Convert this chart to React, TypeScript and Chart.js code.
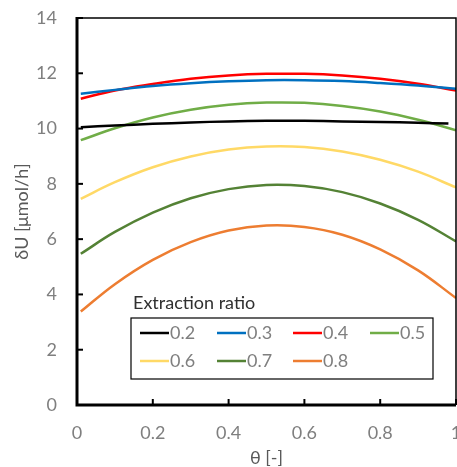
import React, { useEffect, useRef } from "react";
import { Chart, registerables } from "chart.js";

Chart.register(...registerables);

const theta = [0.01, 0.1, 0.2, 0.3, 0.4, 0.5, 0.6, 0.7, 0.8, 0.9, 1.0];
const thetaBlack = [0.01, 0.1, 0.2, 0.3, 0.4, 0.5, 0.6, 0.7, 0.8, 0.9, 0.98];

const r02 = [10.05, 10.11, 10.17, 10.22, 10.26, 10.28, 10.28, 10.26, 10.24, 10.21, 10.18];
const r03 = [11.26, 11.40, 11.54, 11.64, 11.71, 11.75, 11.75, 11.72, 11.65, 11.56, 11.44];
const r04 = [11.08, 11.38, 11.61, 11.80, 11.92, 11.98, 11.98, 11.92, 11.80, 11.62, 11.38];
const r05 = [9.58, 10.01, 10.40, 10.68, 10.86, 10.94, 10.93, 10.82, 10.62, 10.32, 9.94];
const r06 = [7.46, 8.06, 8.60, 8.99, 9.24, 9.35, 9.33, 9.17, 8.87, 8.44, 7.87];
const r07 = [5.47, 6.26, 6.96, 7.48, 7.81, 7.96, 7.92, 7.70, 7.29, 6.70, 5.92];
const r08 = [3.38, 4.37, 5.25, 5.89, 6.31, 6.49, 6.44, 6.16, 5.63, 4.87, 3.87];

const seriesLabels = ["0.2", "0.3", "0.4", "0.5", "0.6", "0.7", "0.8"];
const seriesColors = ["#000000", "#0070C0", "#FF0000", "#70AD47", "#FFD966", "#548235", "#ED7D31"];
const seriesValues = [r02, r03, r04, r05, r06, r07, r08];

const xTicks = [0, 0.2, 0.4, 0.6, 0.8, 1];
const yTicks = [0, 2, 4, 6, 8, 10, 12, 14];

const FONT = "Lato, 'Open Sans', sans-serif";

const framePlugin = {
  id: "frameTicks",
  afterDatasetsDraw(chart: any) {
    const { ctx, chartArea, scales } = chart;
    const { left, right, top, bottom } = chartArea;
    ctx.save();
    ctx.strokeStyle = "#000";
    ctx.lineWidth = 2;
    yTicks.forEach((v) => {
      const y = scales.y.getPixelForValue(v);
      ctx.beginPath();
      ctx.moveTo(left, y);
      ctx.lineTo(left + 6, y);
      ctx.stroke();
    });
    xTicks.forEach((v) => {
      const x = scales.x.getPixelForValue(v);
      ctx.beginPath();
      ctx.moveTo(x, bottom);
      ctx.lineTo(x, bottom - 6);
      ctx.stroke();
    });
    ctx.lineWidth = 1.5;
    ctx.beginPath();
    ctx.moveTo(left, top);
    ctx.lineTo(right, top);
    ctx.lineTo(right, bottom);
    ctx.stroke();
    ctx.lineWidth = 3;
    ctx.beginPath();
    ctx.moveTo(left, top - 1);
    ctx.lineTo(left, bottom);
    ctx.lineTo(right, bottom);
    ctx.stroke();

    // legend
    const bx = 131, by = 318, bw = 302, bh = 61;
    ctx.fillStyle = "#ffffff";
    ctx.fillRect(bx, by, bw, bh);
    ctx.lineWidth = 1.2;
    ctx.strokeStyle = "#000";
    ctx.strokeRect(bx, by, bw, bh);
    ctx.font = `18px ${FONT}`;
    ctx.textBaseline = "middle";
    ctx.textAlign = "left";
    ctx.fillStyle = "#303030";
    ctx.fillText("Extraction ratio", 133, 303);
    const colX = [140, 217, 293, 370];
    const rowY = [333, 361];
    chart.data.datasets.forEach((ds: any, i: number) => {
      const cx = colX[i % 4];
      const cy = rowY[Math.floor(i / 4)];
      ctx.strokeStyle = ds.borderColor;
      ctx.lineWidth = 2.5;
      ctx.beginPath();
      ctx.moveTo(cx, cy);
      ctx.lineTo(cx + 29, cy);
      ctx.stroke();
      ctx.fillStyle = "#7f7f7f";
      ctx.fillText(ds.label, cx + 30, cy);
    });
    ctx.restore();
  },
};

export default function App() {
  const ref = useRef<HTMLCanvasElement | null>(null);
  useEffect(() => {
    document.body.style.margin = "0";
    const datasets = seriesLabels.map((lab, i) => {
      const xs = i === 0 ? thetaBlack : theta;
      return {
        label: lab,
        data: seriesValues[i].map((v, j) => ({ x: xs[j], y: v })),
        borderColor: seriesColors[i],
        backgroundColor: seriesColors[i],
        borderWidth: 2.5,
        pointRadius: 0,
        fill: false,
        tension: 0.4,
      };
    });
    const zeroPad = (s: any) => {
      s.paddingLeft = 0;
      s.paddingRight = 0;
      s.paddingTop = 0;
      s.paddingBottom = 0;
    };
    const chart = new Chart(ref.current!, {
      type: "line",
      data: { datasets },
      options: {
        animation: false,
        responsive: false,
        maintainAspectRatio: false,
        layout: { padding: { top: 18, right: 1, left: 0, bottom: 0 } },
        plugins: { legend: { display: false }, tooltip: { enabled: false } },
        scales: {
          x: {
            type: "linear",
            min: 0,
            max: 1,
            afterBuildTicks: (s: any) => {
              s.ticks = xTicks.map((v) => ({ value: v }));
            },
            afterFit: (s: any) => {
              s.height = 62;
              zeroPad(s);
            },
            grid: { display: false, drawTicks: false },
            border: { display: false },
            ticks: {
              padding: 17,
              color: "#7f7f7f",
              font: { family: FONT, size: 18 },
              callback: (v: any) => String(v),
            },
            title: {
              display: true,
              text: "θ [-]",
              color: "#595959",
              font: { family: FONT, size: 18, lineHeight: 1 },
              padding: { top: 0, bottom: 0 },
            },
          },
          y: {
            type: "linear",
            min: 0,
            max: 14,
            afterBuildTicks: (s: any) => {
              s.ticks = yTicks.map((v) => ({ value: v }));
            },
            afterFit: (s: any) => {
              s.width = 77;
              zeroPad(s);
            },
            grid: { display: false, drawTicks: false },
            border: { display: false },
            ticks: {
              padding: 20,
              color: "#7f7f7f",
              font: { family: FONT, size: 18 },
            },
            title: {
              display: true,
              text: "δU [μmol/h]",
              color: "#595959",
              font: { family: FONT, size: 18 },
              padding: { top: 11, bottom: 0 },
            },
          },
        },
      },
      plugins: [framePlugin],
    });
    return () => chart.destroy();
  }, []);
  return (
    <div style={{ width: 457, height: 467, position: "relative", background: "#fff" }}>
      <canvas ref={ref} width={457} height={467} style={{ width: 457, height: 467, display: "block" }} />
    </div>
  );
}
